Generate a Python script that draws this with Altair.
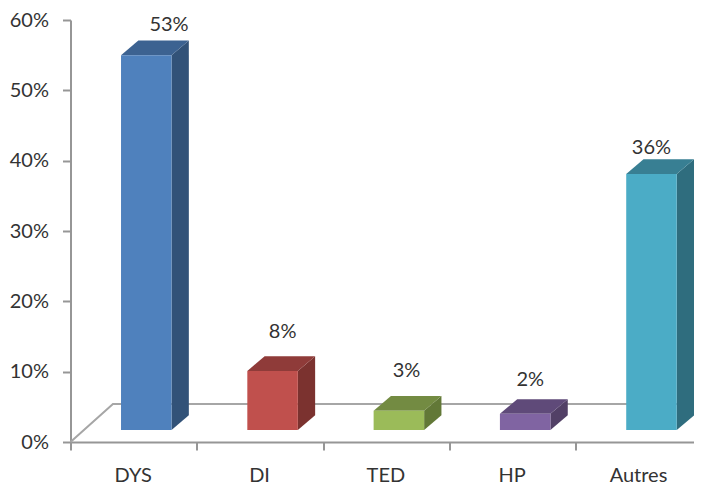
import altair as alt
import pandas as pd

categories = ["DYS", "DI", "TED", "HP", "Autres"]
value_labels = ["53%", "8%", "3%", "2%", "36%"]
values = [53.3, 8.4, 2.75, 2.3, 36.4]
colors_front = ["#4f81bd", "#c0504d", "#9bbb59", "#8064a2", "#4bacc6"]
colors_side = ["#325278", "#7b322f", "#627837", "#524066", "#2f6d7e"]
colors_top = ["#3c6291", "#8f3b39", "#738b42", "#5f4a79", "#387f93"]
label_x = [0.78, 1.68, 2.66, 3.64, 4.60]
label_y = [59.3, 15.6, 10.1, 8.8, 41.8]
floor_x = [0.0, 0.336, 5.0]
floor_y = [0.0, 5.4, 5.4]

BASE = 1.7      # height of the bar base above the axis, %
DX = 0.137      # 3D depth in category units
DY = 2.09       # 3D depth in % units
LEFT = 0.40
RIGHT = 0.80

front_rows, side_rows, top_rows = [], [], []
for i, (cat, v) in enumerate(zip(categories, values)):
    l, r = i + LEFT, i + RIGHT
    t = BASE + v
    front_rows.append(dict(cat=cat, x=l, x2=r, y=BASE, y2=t))
    side_rows += [
        dict(cat=cat, x=r, y=BASE, y2=t),
        dict(cat=cat, x=r + DX, y=BASE + DY, y2=t + DY),
    ]
    top_rows += [
        dict(cat=cat, x=l, y=t, y2=t),
        dict(cat=cat, x=l + DX, y=t, y2=t + DY),
        dict(cat=cat, x=r, y=t, y2=t + DY),
        dict(cat=cat, x=r + DX, y=t + DY, y2=t + DY),
    ]

front_df = pd.DataFrame(front_rows)
side_df = pd.DataFrame(side_rows)
top_df = pd.DataFrame(top_rows)
floor_df = pd.DataFrame({"x": floor_x, "y": floor_y})
label_df = pd.DataFrame({"x": label_x, "y": label_y, "t": value_labels})
cat_df = pd.DataFrame({"x": [i + 0.497 for i in range(5)], "t": categories})

FONT = "Lato"
TEXT = "#333333"
GREY = "#969696"

X = alt.X(
    "x:Q",
    title=None,
    scale=alt.Scale(domain=[0, 5], nice=False, zero=False),
    axis=alt.Axis(
        values=[0, 1, 2, 3, 4, 5], labels=False, grid=False, tickSize=8,
        tickWidth=2, tickColor=GREY, domainColor=GREY, domainWidth=2, title=None,
    ),
)
Y = alt.Y(
    "y:Q",
    title=None,
    scale=alt.Scale(domain=[0, 60], nice=False),
    axis=alt.Axis(
        values=[0, 10, 20, 30, 40, 50, 60], labelExpr="datum.value + '%'", grid=False,
        tickSize=8, tickWidth=2, tickColor=GREY, domainColor=GREY, domainWidth=2,
        labelFont=FONT, labelFontSize=20, labelColor=TEXT, labelPadding=14, title=None,
        labelBaseline="middle",
    ),
)


def fill(colors):
    return alt.Color("cat:N", scale=alt.Scale(domain=categories, range=colors), legend=None)


floor = alt.Chart(floor_df).mark_line(color="#a6a6a6", strokeWidth=2).encode(x=X, y=Y)
side = alt.Chart(side_df).mark_area(opacity=1).encode(
    x=X, y=Y, y2=alt.Y2("y2:Q"), color=fill(colors_side), detail="cat:N"
)
top = alt.Chart(top_df).mark_area(opacity=1).encode(
    x=X, y=Y, y2=alt.Y2("y2:Q"), color=fill(colors_top), detail="cat:N"
)
front = alt.Chart(front_df).mark_rect(opacity=1).encode(
    x=X, x2=alt.X2("x2:Q"), y=Y, y2=alt.Y2("y2:Q"), color=fill(colors_front)
)
labels = alt.Chart(label_df).mark_text(
    font=FONT, fontSize=20, color=TEXT, align="center", baseline="middle"
).encode(x=X, y=Y, text="t:N")
cats = alt.Chart(cat_df).mark_text(
    font=FONT, fontSize=20, color=TEXT, align="center", baseline="middle"
).encode(x=X, y=alt.value(456), text="t:N")

chart = (
    alt.layer(floor, side, top, front, labels, cats)
    .resolve_scale(color="independent")
    .properties(
        width=631.5,
        height=422,
        autosize=alt.AutoSizeParams(type="none"),
        padding={"left": 62.5, "top": 12, "right": -8, "bottom": 44},
        background="#ffffff",
    )
    .configure_view(stroke=None)
)

chart.save("out.html", embed_options={"renderer": "svg", "actions": False})
